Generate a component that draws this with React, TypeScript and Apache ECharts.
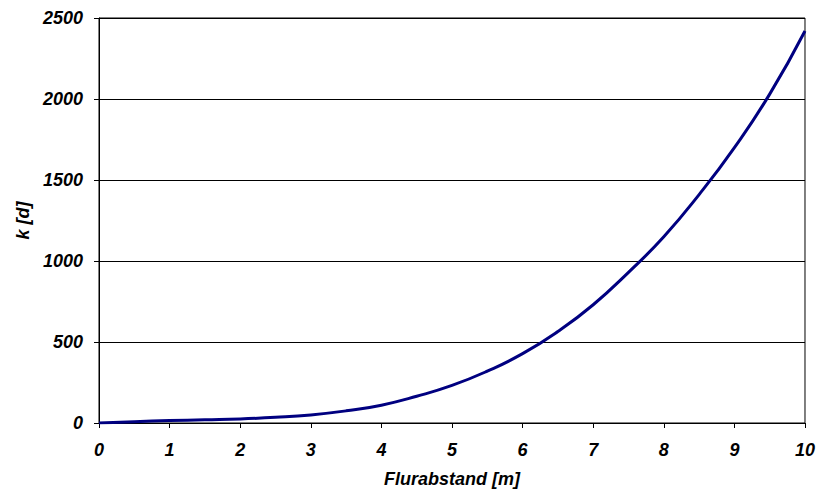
import React, { useEffect, useRef } from "react";
import * as echarts from "echarts";

// Flurabstand (depth to groundwater, m) vs. k (days)
const depths = [0, 0.5, 1, 1.5, 2, 2.5, 3, 3.5, 4, 4.5, 5, 5.5, 6, 6.5, 7, 7.5, 8, 8.5, 9, 9.5, 10];
const kValues = [0, 8, 15, 20, 25, 35, 50, 75, 110, 165, 232, 320, 428, 565, 730, 930, 1150, 1410, 1700, 2030, 2420];

const xTicks = [0, 1, 2, 3, 4, 5, 6, 7, 8, 9, 10];
const yTicks = [0, 500, 1000, 1500, 2000, 2500];

const FONT = "'Liberation Sans', Arial, sans-serif";

export default function App() {
  const ref = useRef<HTMLDivElement>(null);

  useEffect(() => {
    if (!ref.current) return;
    const chart = echarts.init(ref.current, undefined, { renderer: "svg" });
    const labelStyle = {
      fontFamily: FONT,
      fontSize: 18,
      fontWeight: "bold" as const,
      fontStyle: "italic" as const,
      color: "#000",
    };
    chart.setOption({
      animation: false,
      backgroundColor: "#fff",
      grid: {
        left: 99,
        right: 10,
        top: 18,
        bottom: 68,
        show: true,
        borderColor: "#000",
        borderWidth: 1,
      },
      xAxis: {
        type: "value",
        min: xTicks[0],
        max: xTicks[xTicks.length - 1],
        interval: 1,
        name: "Flurabstand [m]",
        nameLocation: "middle",
        nameGap: 47,
        nameTextStyle: labelStyle,
        axisLine: { show: true, lineStyle: { color: "#000", width: 1 } },
        axisTick: { show: true, length: 5, lineStyle: { color: "#000" } },
        axisLabel: { ...labelStyle, margin: 18, formatter: (v: number) => String(v) },
        splitLine: { show: false },
      },
      yAxis: {
        type: "value",
        min: yTicks[0],
        max: yTicks[yTicks.length - 1],
        interval: 500,
        name: "k [d]",
        nameLocation: "middle",
        nameRotate: 90,
        nameGap: 66,
        nameTextStyle: labelStyle,
        axisLine: { show: true, lineStyle: { color: "#000", width: 1 } },
        axisTick: { show: true, length: 5, lineStyle: { color: "#000" } },
        axisLabel: { ...labelStyle, margin: 16, formatter: (v: number) => String(v) },
        splitLine: { show: true, lineStyle: { color: "#000", width: 1 } },
      },
      series: [
        {
          type: "line",
          data: depths.map((d, i) => [d, kValues[i]]),
          smooth: 0.5,
          showSymbol: false,
          lineStyle: { color: "#000080", width: 3 },
        },
      ],
    });
    return () => chart.dispose();
  }, []);

  return (
    <div
      ref={ref}
      style={{ position: "fixed", left: 0, top: 0, width: 818, height: 493 }}
    />
  );
}
